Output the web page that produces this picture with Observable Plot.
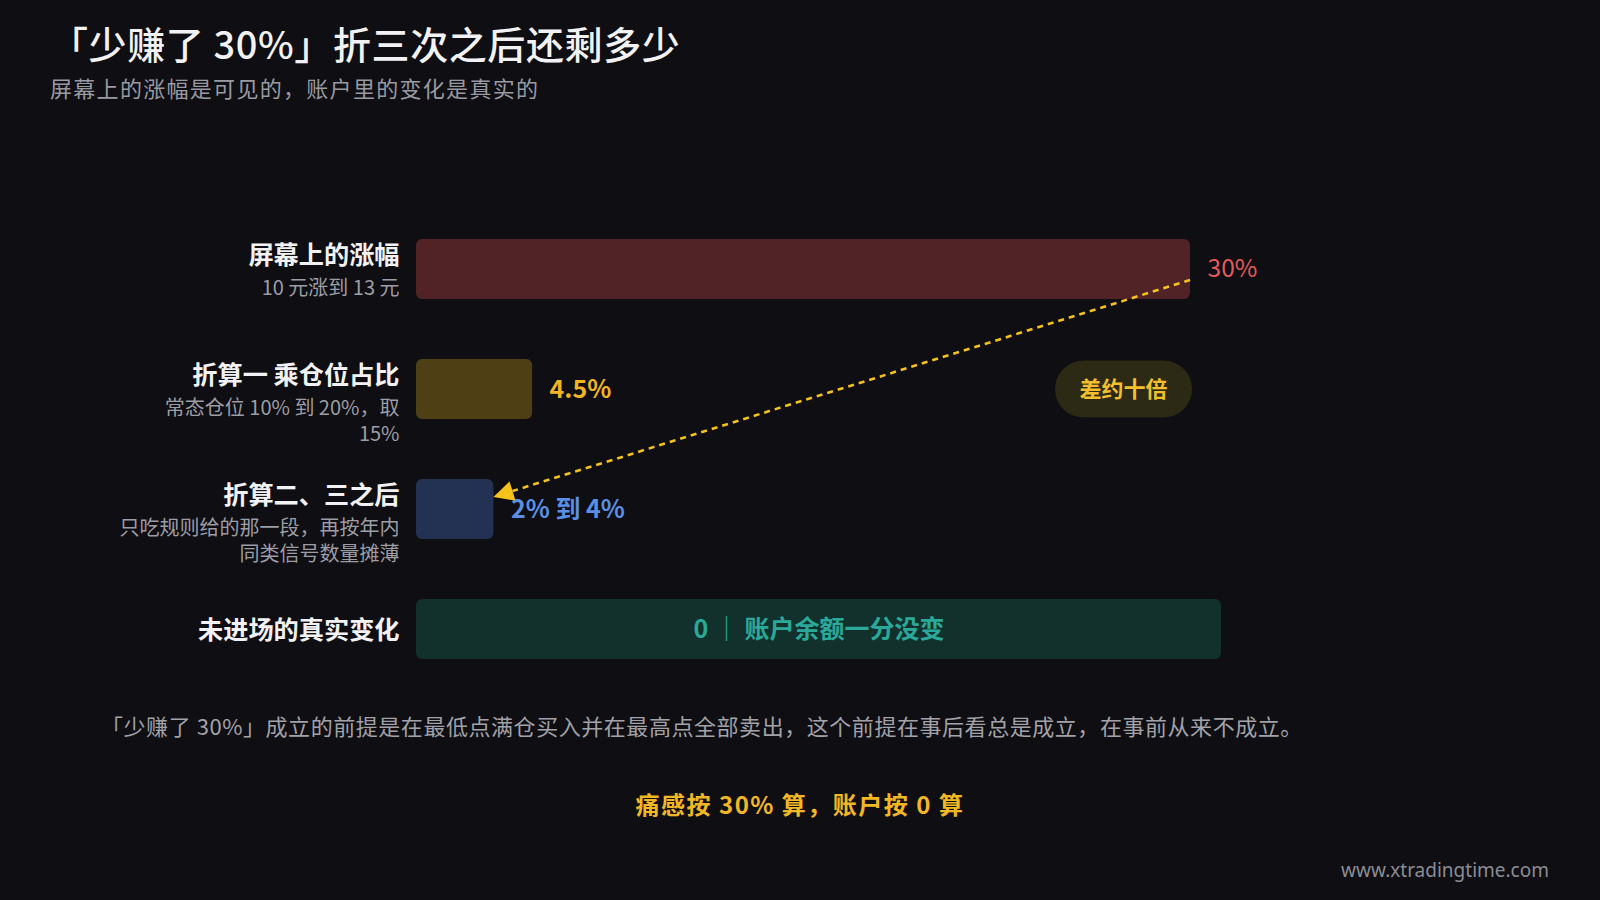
<!DOCTYPE html>
<html>
<head>
<meta charset="utf-8">
<script src="https://cdn.jsdelivr.net/npm/d3@7"></script>
<script src="https://cdn.jsdelivr.net/npm/@observablehq/plot@0.6"></script>
<style>
  html, body { margin: 0; padding: 0; background: #0e0e13; }
  body { width: 1600px; height: 900px; overflow: hidden; font-family: "Noto Sans CJK SC", "Noto Sans", sans-serif; }
  #wrap { position: relative; width: 1600px; height: 900px; }
  #chart { position: absolute; left: 0; top: 0; }
  .abs { position: absolute; white-space: nowrap; line-height: 1; }
  #title { left: 50px; top: 24px; font-size: 38px; font-weight: 500; color: #f2f2f4; letter-spacing: 0.6px; }
  #subtitle { left: 50px; top: 76px; font-size: 22px; color: #9a9aa2; letter-spacing: 1.3px; }
  #note { left: 101px; top: 714px; font-size: 22px; color: #a2a2a8; letter-spacing: 0.55px; }
  #punch { left: 0; width: 1600px; text-align: center; top: 792px; font-size: 24px; font-weight: 700; color: #f2b824; letter-spacing: 1.5px; }
  #credit { right: 51px; top: 861px; font-size: 19px; color: #8c8c94; font-family: "Noto Sans", sans-serif; }
</style>
</head>
<body>
<div id="wrap">
  <div id="chart"></div>
  <div id="title" class="abs"></div>
  <div id="subtitle" class="abs"></div>
  <div id="note" class="abs"></div>
  <div id="punch" class="abs"></div>
  <div id="credit" class="abs"></div>
</div>
<script>
// ---- data ----
const titleText = "「少赚了 30%」折三次之后还剩多少";
const subtitleText = "屏幕上的涨幅是可见的，账户里的变化是真实的";
const noteText = "「少赚了 30%」成立的前提是在最低点满仓买入并在最高点全部卖出，这个前提在事后看总是成立，在事前从来不成立。";
const punchText = "痛感按 30% 算，账户按 0 算";
const creditText = "www.xtradingtime.com";

const categories = ["屏幕上的涨幅", "折算一 乘仓位占比", "折算二、三之后", "未进场的真实变化"];
const subLabels = ["10 元涨到 13 元", "常态仓位 10% 到 20%，取\n15%", "只吃规则给的那一段，再按年内\n同类信号数量摊薄", ""];
const barValues = [30, 4.5, 3];            // 2%–4% drawn at about 3%
const valueLabels = ["30%", "4.5%", "2% 到 4%"];
const zeroLabel = "0 ｜ 账户余额一分没变";
const xMax = 31.2;                          // axis extent; the "0" row spans it
const badgeText = "差约十倍";

// ---- styles ----
const barFills = ["#512327", "#4e3f14", "#233252"];
const labelFills = ["#e35a5a", "#f0b51f", "#5b8fe4"];
const labelWeights = [400, 700, 700];
const zeroFill = "#12302c";
const zeroText = "#2aa99a";
const arrowColor = "#f5c21c";

document.getElementById("title").textContent = titleText;
document.getElementById("subtitle").textContent = subtitleText;
document.getElementById("note").textContent = noteText;
document.getElementById("punch").textContent = punchText;
document.getElementById("credit").textContent = creditText;

const bars = barValues.map((v, i) => ({key: categories[i], value: v, label: valueLabels[i], fill: barFills[i], lfill: labelFills[i], weight: labelWeights[i]}));
const rows = categories.map((c, i) => ({key: c, sub: subLabels[i]}));
const withSub = rows.filter(d => d.sub);
const noSub = rows.filter(d => !d.sub);
const zeroRow = [{key: categories[3], value: 0, x2: xMax, label: zeroLabel}];

function bandCenter(y, key) { return y(key) + y.bandwidth() / 2; }

// dashed connector with filled arrow head, from the 30% bar end to the 2–4% bar end
function connector(index, scales) {
  const {x, y} = scales;
  const x1 = x(bars[0].value), y1 = bandCenter(y, bars[0].key) + 11;
  const x2 = x(bars[2].value), y2 = bandCenter(y, bars[2].key) - 12;
  const g = d3.create("svg:g");
  const ang = Math.atan2(y2 - y1, x2 - x1);
  const headLen = 20, headW = 10;
  const bx = x2 - headLen * Math.cos(ang), by = y2 - headLen * Math.sin(ang);
  g.append("line").attr("x1", x1).attr("y1", y1).attr("x2", bx).attr("y2", by)
    .attr("stroke", arrowColor).attr("stroke-width", 2.6).attr("stroke-dasharray", "6 5");
  const px = -Math.sin(ang) * headW, py = Math.cos(ang) * headW;
  g.append("polygon")
    .attr("points", `${x2},${y2} ${bx + px},${by + py} ${bx - px},${by - py}`)
    .attr("fill", arrowColor);
  return g.node();
}

function badge(index, scales) {
  const {x, y} = scales;
  const right = x(bars[0].value) + 2;
  const cy = bandCenter(y, categories[1]);
  const w = 137, h = 57;
  const g = d3.create("svg:g");
  g.append("rect").attr("x", right - w).attr("y", cy - h / 2).attr("width", w).attr("height", h)
    .attr("rx", h / 2).attr("fill", "#2c2914");
  g.append("text").attr("x", right - w / 2).attr("y", cy).attr("dy", "0.35em")
    .attr("text-anchor", "middle").attr("fill", "#f3c02c")
    .attr("font-size", 22).attr("font-weight", 700)
    .attr("font-family", '"Noto Sans CJK SC", sans-serif').text(badgeText);
  return g.node();
}

const chart = Plot.plot({
  width: 1600,
  height: 900,
  marginLeft: 416,
  marginRight: 379,
  marginTop: 177.5,
  marginBottom: 179.5,
  style: {background: "transparent", fontFamily: '"Noto Sans CJK SC", "Noto Sans", sans-serif', overflow: "visible"},
  x: {domain: [0, xMax], axis: null},
  y: {domain: categories, axis: null, padding: 0.5},
  color: {type: "identity"},
  marks: [
    Plot.barX(zeroRow, {x1: "value", x2: "x2", y: "key", fill: zeroFill, rx: 6}),
    Plot.text(zeroRow, {x: d => (d.value + d.x2) / 2, y: "key", text: "label", fill: zeroText, fontSize: 25, fontWeight: 700}),
    Plot.barX(bars, {x1: 0, x2: "value", y: "key", fill: "fill", rx: 6}),
    Plot.text(bars.filter(d => d.weight === 400), {x: "value", y: "key", text: "label", fill: "lfill", dx: 17, textAnchor: "start", fontSize: 24.5, fontWeight: 400}),
    Plot.text(bars.filter(d => d.weight === 700), {x: "value", y: "key", text: "label", fill: "lfill", dx: 17, textAnchor: "start", fontSize: 25, fontWeight: 700}),
    Plot.text(withSub, {x: 0, y: "key", text: "key", dx: -17, dy: -14, textAnchor: "end", fill: "#f2f2f4", fontSize: 25.2, fontWeight: 700}),
    Plot.text(noSub, {x: 0, y: "key", text: "key", dx: -17, dy: 1, textAnchor: "end", fill: "#f2f2f4", fontSize: 25.2, fontWeight: 700}),
    Plot.text(withSub, {x: 0, y: "key", text: "sub", dx: -17, dy: 6.5, textAnchor: "end", lineAnchor: "top", lineHeight: 1.33, fill: "#9d9da5", fontSize: 20}),
    badge,
    connector
  ]
});
document.getElementById("chart").appendChild(chart);
</script>
</body>
</html>
